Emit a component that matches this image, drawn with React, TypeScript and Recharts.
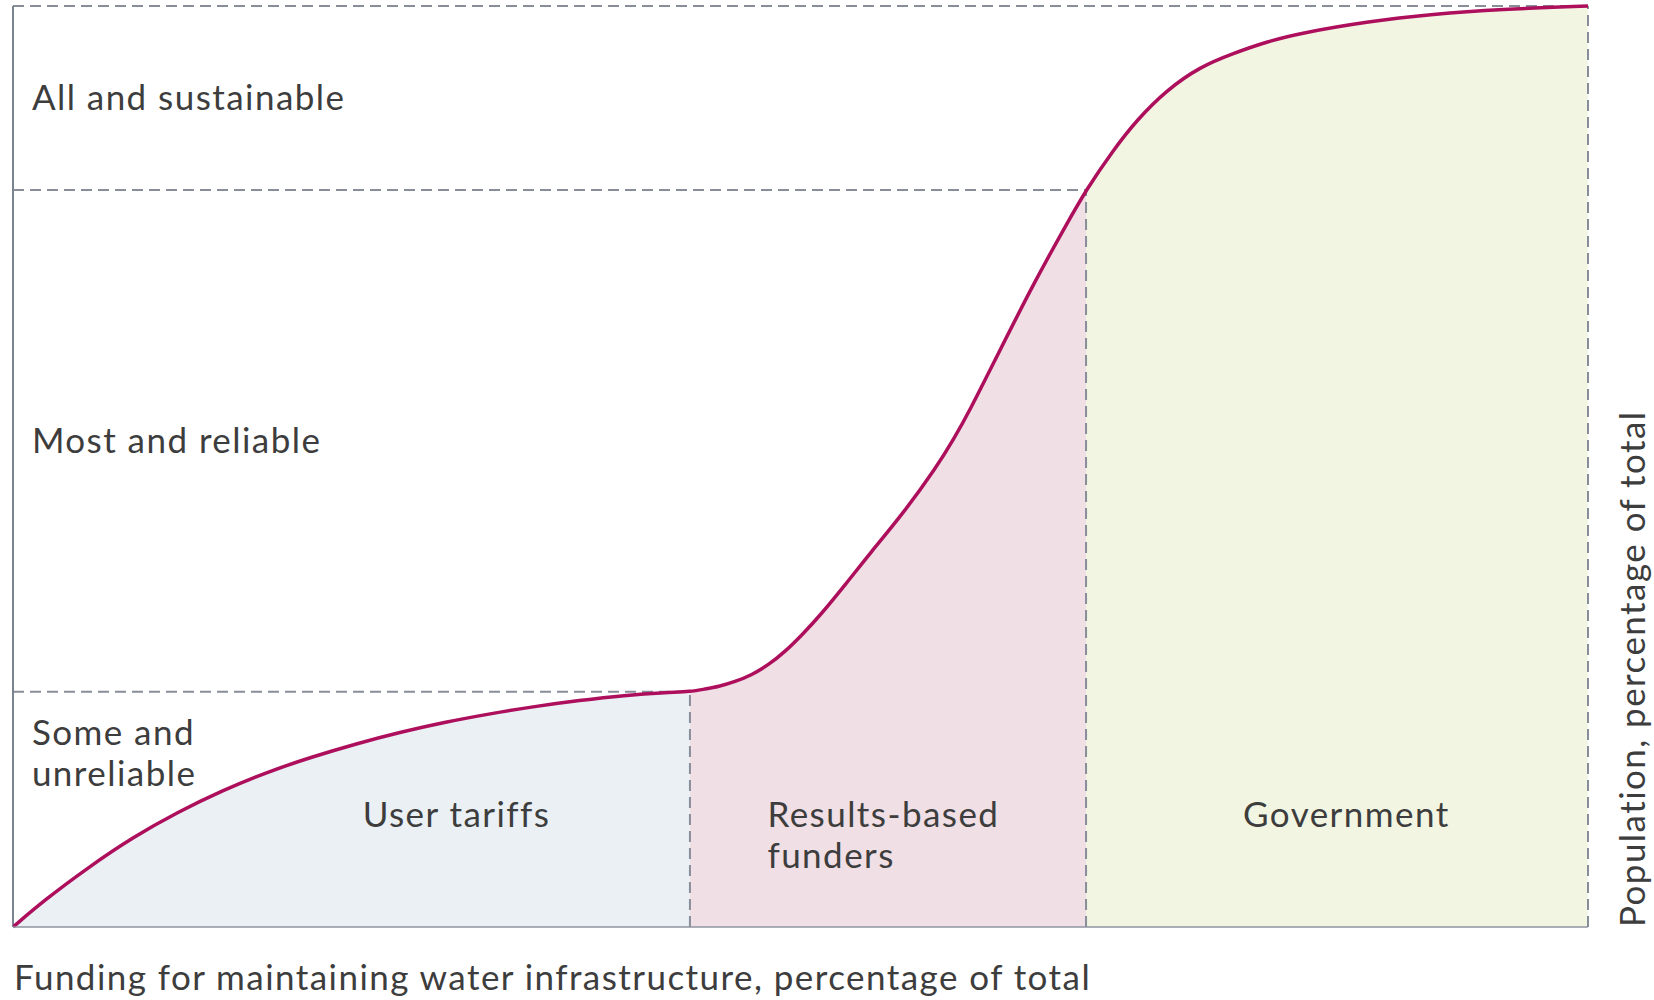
import React from "react";
import {
  ComposedChart,
  Area,
  Line,
  XAxis,
  YAxis,
  ReferenceLine,
  ReferenceDot,
} from "recharts";

// Curve: funding share (x, %) vs population share (y, %)
const fundingShare = [
  0, 1.98, 4.81, 7.64, 10.48, 13.31, 16.14, 18.97, 21.8, 24.63, 27.47, 30.3, 33.13, 35.96, 38.79, 41.63, 42.98,
  43.94, 44.78, 45.84, 46.9, 47.96, 49.02, 50.08, 51.13, 52.93, 54.41, 56.53, 58.65, 59.7, 60.76, 62.35, 64.78, 66.9, 68.13,
  69.86, 71.35, 73.25, 75.37, 77.48, 79.6, 81.71, 85.95, 90.18, 94.41, 100,
];
const populationShare = [
  0, 2.9, 6.51, 9.77, 12.49, 14.83, 16.83, 18.46, 19.9, 21.17, 22.26, 23.16, 23.95, 24.6, 25.15, 25.47, 25.55,
  25.84, 26.09, 26.63, 27.36, 28.45, 29.89, 31.7, 33.59, 37.35, 40.58, 44.92, 49.98, 52.88, 56.13, 61.56, 69.82, 76.33, 80.02,
  84.36, 87.62, 90.88, 93.41, 94.86, 96.12, 97.04, 98.3, 99.13, 99.64, 100,
];

// Zone boundaries
const zoneBreaksX = [42.98, 68.13, 100];
const levelBreaksY = [25.55, 80.02, 100];

const sourceLabels = [
  { lines: ["User tariffs"], x: 22.2, y: 10.9 },
  { lines: ["Results-based", "funders"], x: 47.9, y: 10.9 },
  { lines: ["Government"], x: 78.1, y: 10.9 },
];
const levelLabels = [
  { lines: ["All and sustainable"], x: 1.2, y: 88.7 },
  { lines: ["Most and reliable"], x: 1.2, y: 51.5 },
  { lines: ["Some and", "unreliable"], x: 1.2, y: 19.8 },
];

const xTitle = "Funding for maintaining water infrastructure, percentage of total";
const yTitle = "Population, percentage of total";

const data = fundingShare.map((x, i) => ({ x, y: populationShare[i] }));

const FONT = "Lato, 'Open Sans', sans-serif";
const FS = 35;
const LS = 1.45;
const TEXT = "#3d3d3d";
const DASH = "#878d99";
const CURVE = "#ad0f5c";

const multiLabel = (lines: string[]) => (props: any) => {
  const vb = props.viewBox || {};
  const x = (vb.x ?? 0) + (vb.width ?? 0) / 2;
  const y = (vb.y ?? 0) + (vb.height ?? 0) / 2;
  return (
    <text x={x} y={y} fill={TEXT} fontSize={FS} letterSpacing={LS} fontFamily={FONT} textAnchor="start">
      {lines.map((l, i) => (
        <tspan key={i} x={x} dy={i === 0 ? 0 : 41.5}>
          {l}
        </tspan>
      ))}
    </text>
  );
};

const xTitleLabel = (props: any) => {
  const vb = props.viewBox || {};
  return (
    <text x={(vb.x ?? 0) + 1} y={(vb.y ?? 0) + 63} fill={TEXT} fontSize={FS} letterSpacing={LS} fontFamily={FONT}>
      {xTitle}
    </text>
  );
};

const yTitleLabel = (props: any) => {
  const vb = props.viewBox || {};
  const x = (vb.x ?? 0) + 57;
  const y = (vb.y ?? 0) + (vb.height ?? 0);
  return (
    <text
      x={x}
      y={y}
      fill={TEXT}
      fontSize={FS}
      letterSpacing={LS}
      fontFamily={FONT}
      transform={`rotate(-90 ${x} ${y})`}
      textAnchor="start"
    >
      {yTitle}
    </text>
  );
};

export default function App() {
  const [b1, b2, b3] = zoneBreaksX;
  const [l1, l2, l3] = levelBreaksY;
  const dashed = { stroke: DASH, strokeWidth: 2, strokeDasharray: "11 6", ifOverflow: "visible" as const };
  return (
    <div style={{ position: "absolute", left: 0, top: 0, width: 1654, height: 1000, background: "#fff" }}>
      <ComposedChart width={1654} height={1000} data={data} margin={{ top: 6, right: 0, bottom: 0, left: 13 }}>
        <defs>
          <linearGradient id="zones" x1="0" y1="0" x2="1" y2="0">
            <stop offset={`${b1}%`} stopColor="#eaf0f4" />
            <stop offset={`${b1}%`} stopColor="#f0dfe5" />
            <stop offset={`${b2}%`} stopColor="#f0dfe5" />
            <stop offset={`${b2}%`} stopColor="#f3f5e3" />
            <stop offset="100%" stopColor="#f3f5e3" />
          </linearGradient>
        </defs>
        <XAxis
          dataKey="x"
          type="number"
          domain={[0, 100]}
          allowDataOverflow
          tick={false}
          tickLine={false}
          axisLine={{ stroke: "#8e95a1", strokeWidth: 1.5 }}
          height={73}
          label={xTitleLabel}
        />
        <YAxis
          type="number"
          domain={[0, 100]}
          orientation="right"
          width={66}
          tick={false}
          tickLine={false}
          axisLine={false}
          label={yTitleLabel}
        />
        <Area
          dataKey="y"
          type="basis"
          stroke="none"
          fill="url(#zones)"
          fillOpacity={1}
          isAnimationActive={false}
          dot={false}
          activeDot={false}
        />
        <ReferenceLine segment={[{ x: 0, y: l3 }, { x: b3, y: l3 }]} {...dashed} />
        <ReferenceLine segment={[{ x: 0, y: l2 }, { x: b2, y: l2 }]} {...dashed} />
        <ReferenceLine segment={[{ x: 0, y: l1 }, { x: b1, y: l1 }]} {...dashed} />
        <ReferenceLine segment={[{ x: b1, y: 0 }, { x: b1, y: l1 }]} {...dashed} />
        <ReferenceLine segment={[{ x: b2, y: 0 }, { x: b2, y: l2 }]} {...dashed} />
        <ReferenceLine segment={[{ x: b3, y: 0 }, { x: b3, y: l3 }]} {...dashed} />
        <ReferenceLine segment={[{ x: 0, y: 0 }, { x: 0, y: l3 }]} stroke="#7b8391" strokeWidth={2} ifOverflow="visible" />
        <Line
          dataKey="y"
          type="basis"
          stroke={CURVE}
          strokeWidth={3.5}
          dot={false}
          activeDot={false}
          isAnimationActive={false}
        />
        {levelLabels.concat(sourceLabels).map((lb, i) => (
          <ReferenceDot
            key={i}
            x={lb.x}
            y={lb.y}
            r={0}
            fill="none"
            stroke="none"
            ifOverflow="visible"
            label={multiLabel(lb.lines)}
          />
        ))}
      </ComposedChart>
    </div>
  );
}
